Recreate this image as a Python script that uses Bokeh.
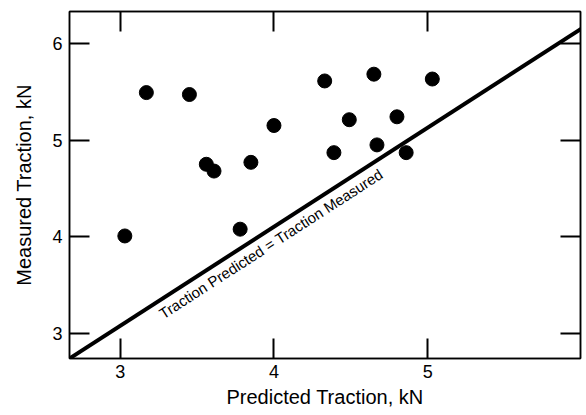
from bokeh.plotting import figure
from bokeh.models import LinearAxis, FixedTicker, Range1d, Label
from bokeh.embed import file_html
from bokeh.resources import INLINE

# Data
predicted = [3.03, 3.17, 3.45, 3.56, 3.61, 3.78, 3.85, 4.00, 4.33, 4.39, 4.49, 4.65, 4.67, 4.80, 4.86, 5.03]
measured = [4.01, 5.49, 5.47, 4.75, 4.68, 4.08, 4.77, 5.15, 5.61, 4.87, 5.21, 5.68, 4.95, 5.24, 4.87, 5.63]

# Equality line as drawn in the reference
line_x = [2.67, 6.0]
line_y = [2.745, 6.15]

x_ticks = [3, 4, 5, 6]
y_ticks = [3, 4, 5, 6]

FONT = "Liberation Sans"

p = figure(width=584, height=413, output_backend="svg", toolbar_location=None,
           x_range=Range1d(2.67, 5.994), y_range=Range1d(2.745, 6.327),
           min_border_left=69, min_border_right=4, min_border_top=11, min_border_bottom=55,
           x_axis_label="Predicted Traction, kN", y_axis_label="Measured Traction, kN")

p.xgrid.visible = False
p.ygrid.visible = False
p.outline_line_color = "black"
p.outline_line_width = 1.5
p.outline_line_alpha = 1.0
p.background_fill_color = "white"
p.border_fill_color = "white"

def style_axis(ax, ticks, show_labels):
    ax.ticker = FixedTicker(ticks=ticks)
    ax.major_tick_in = 20
    ax.major_tick_out = 0
    ax.minor_tick_in = 0
    ax.minor_tick_out = 0
    ax.major_tick_line_width = 2
    ax.major_tick_line_color = "black"
    ax.axis_line_color = "black"
    ax.axis_line_width = 1.5
    ax.major_label_text_font = FONT
    ax.major_label_text_color = "black"
    ax.axis_label_text_font = FONT
    ax.axis_label_text_font_style = "normal"
    ax.axis_label_text_color = "black"
    ax.axis_label_text_font_size = "20px"
    if show_labels:
        ax.major_label_text_font_size = "18px"
    else:
        ax.major_label_text_font_size = "0px"
        ax.major_label_standoff = 0
        ax.major_label_overrides = {t: "" for t in ticks}

style_axis(p.xaxis[0], x_ticks, True)
style_axis(p.yaxis[0], y_ticks, True)
p.xaxis[0].major_label_standoff = 6
p.xaxis[0].axis_label_standoff = 5
p.yaxis[0].major_label_standoff = 7
p.yaxis[0].axis_label_standoff = 14

top_ax = LinearAxis()
right_ax = LinearAxis()
style_axis(top_ax, x_ticks, False)
style_axis(right_ax, y_ticks, False)
p.add_layout(top_ax, "above")
p.add_layout(right_ax, "right")

p.line(line_x, line_y, line_color="black", line_width=4)
p.scatter(predicted, measured, size=14, fill_color="black", line_color="black")

note = Label(x=3.98, y=3.93, text="Traction Predicted = Traction Measured",
             angle=32.8, angle_units="deg", text_align="center", text_baseline="middle",
             text_font=FONT, text_font_size="15px", text_color="black")
p.add_layout(note)

open("out.html", "w").write(file_html(p, INLINE))
